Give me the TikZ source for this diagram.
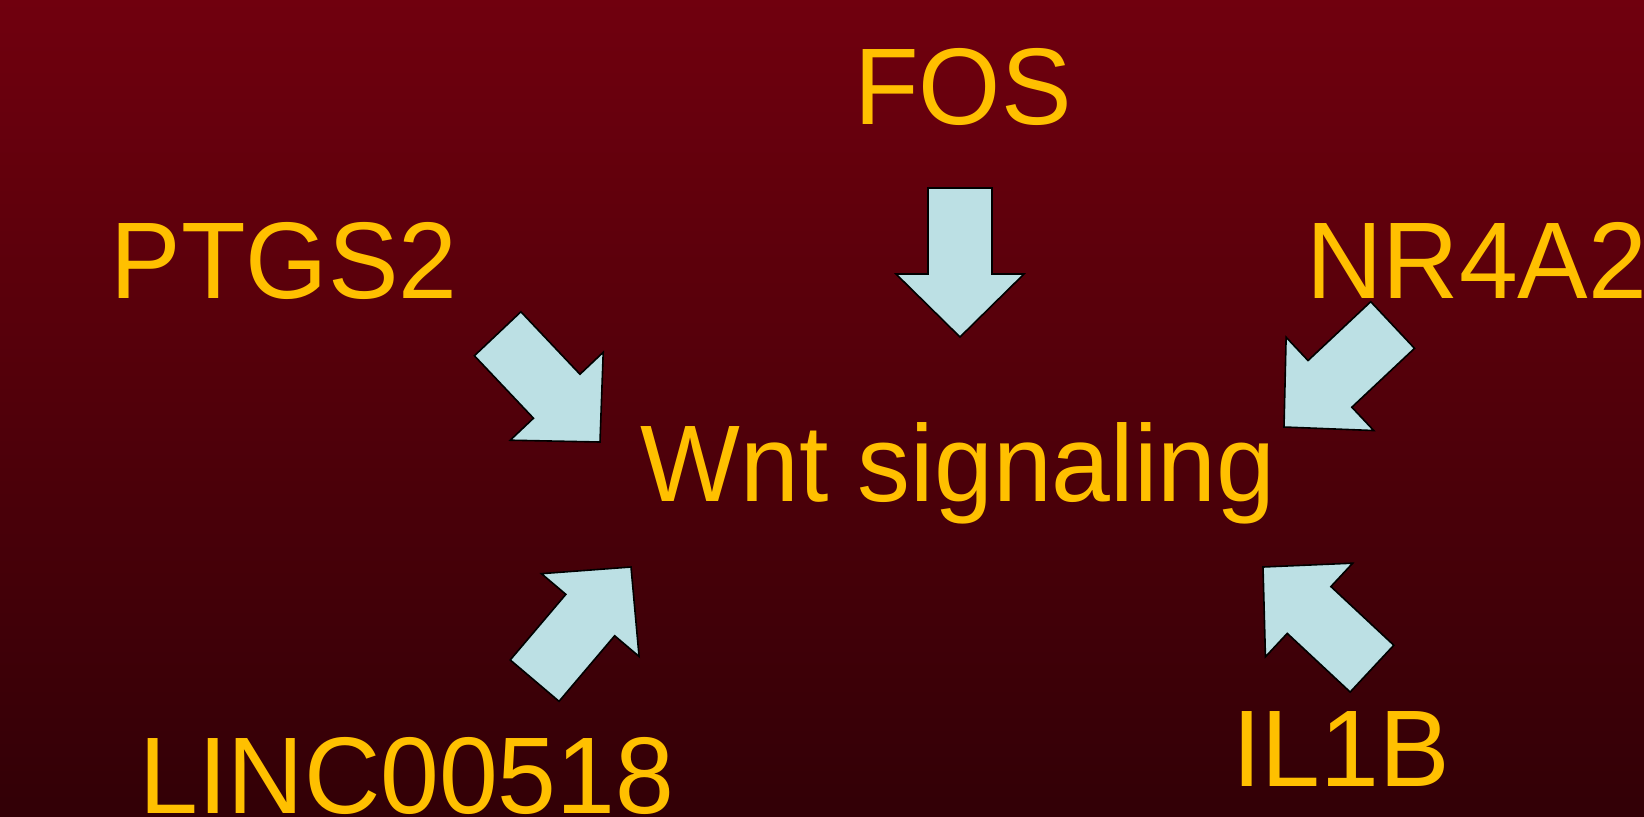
\documentclass[tikz,border=0pt]{standalone}
\usepackage{fontspec}
\setmainfont[FakeStretch=0.97]{Liberation Sans}
\definecolor{bgtop}{RGB}{112,0,14}
\definecolor{bgbottom}{RGB}{50,0,6}
\definecolor{labelgold}{RGB}{255,192,0}
\definecolor{arrowcyan}{RGB}{188,224,228}
\tikzset{
  genelabel/.style={text=labelgold, inner sep=0pt, font=\fontsize{54.5}{60}\selectfont},
  arrowfill/.style={fill=arrowcyan, draw=black, line width=0.8pt, line join=miter},
  blockarrow/.pic={
    \draw[arrowfill] (0,0) -- (-63,64) -- (-63,32) -- (-149,32)
      -- (-149,-32) -- (-63,-32) -- (-63,-64) -- cycle;
  }
}
\begin{document}
\begin{tikzpicture}[x=0.5pt, y=-0.5pt]
  % dark red gradient backdrop
  \shade[top color=bgtop, bottom color=bgbottom] (0,0) rectangle (1644,816);
  \useasboundingbox (0,0) rectangle (1644,816);

  % gene labels and the pathway in the middle
  \node[genelabel, anchor=base] (fos) at (963,124) {FOS};
  \node[genelabel, anchor=base] (ptgs2) at (284,298) {PTGS2};
  \node[genelabel, anchor=base west] (nr4a2) at (1306,298) {NR4A2};
  \node[genelabel, anchor=base] (wnt) at (958,501) {Wnt signaling};
  \node[genelabel, anchor=base] (linc) at (407,813) {LINC00518};
  \node[genelabel, anchor=base] (il1b) at (1341,786) {IL1B};

  % block arrows pointing towards the pathway (placed by tip)
  \coordinate (tipfos) at (960,337);
  \coordinate (tipptgs2) at (600,442);
  \coordinate (tipnr4a2) at (1284,427);
  \coordinate (tiplinc) at (631,567);
  \coordinate (tipil1b) at (1263,567);
  \pic[rotate=-90] at (tipfos) {blockarrow};
  \pic[rotate=-46.6] at (tipptgs2) {blockarrow};
  \pic[rotate=-136.8] at (tipnr4a2) {blockarrow};
  \pic[rotate=49.7] at (tiplinc) {blockarrow};
  \pic[rotate=137] at (tipil1b) {blockarrow};
\end{tikzpicture}
\end{document}
